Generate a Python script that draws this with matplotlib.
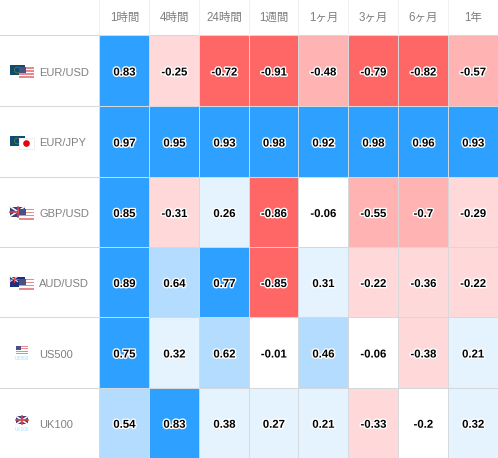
import numpy as np
import matplotlib
matplotlib.use('Agg')
import matplotlib.pyplot as plt
import matplotlib.patheffects as pe
from matplotlib.colors import ListedColormap, BoundaryNorm
from matplotlib.patches import Rectangle, Circle

periodos = ['1時間', '4時間', '24時間', '1週間', '1ヶ月', '3ヶ月', '6ヶ月', '1年']
simbolos = ['EUR/USD', 'EUR/JPY', 'GBP/USD', 'AUD/USD', 'US500', 'UK100']
eur_usd = [0.83, -0.25, -0.72, -0.91, -0.48, -0.79, -0.82, -0.57]
eur_jpy = [0.97, 0.95, 0.93, 0.98, 0.92, 0.98, 0.96, 0.93]
gbp_usd = [0.85, -0.31, 0.26, -0.86, -0.06, -0.55, -0.7, -0.29]
aud_usd = [0.89, 0.64, 0.77, -0.85, 0.31, -0.22, -0.36, -0.22]
us500 = [0.75, 0.32, 0.62, -0.01, 0.46, -0.06, -0.38, 0.21]
uk100 = [0.54, 0.83, 0.38, 0.27, 0.21, -0.33, -0.2, 0.32]
valores = np.array([eur_usd, eur_jpy, gbp_usd, aud_usd, us500, uk100])

limites = [-1.01, -0.7001, -0.4, -0.2001, 0.2, 0.4, 0.7, 1.01]
colores = ['#ff6666', '#ffb3b3', '#ffd9d9', '#ffffff', '#e5f3ff', '#b3dcff', '#2ea0ff']

bordes_x = [99.5, 149.5, 199.5, 249.5, 298.5, 348.5, 398.5, 448.5, 498]
bordes_y = [35.5, 106.5, 177.5, 247.5, 317.5, 388.5, 458]

plt.rcParams['font.family'] = ['Liberation Sans', 'Noto Sans CJK JP', 'DejaVu Sans']

fig = plt.figure(figsize=(4.98, 4.58), dpi=100)
ax = fig.add_axes([0, 0, 1, 1])
ax.set_xlim(0, 498)
ax.set_ylim(458, 0)
ax.axis('off')

cmap = ListedColormap(colores)
norm = BoundaryNorm(limites, cmap.N)
ax.pcolormesh(bordes_x, bordes_y, valores, cmap=cmap, norm=norm)

# lineas de la tabla
for y in bordes_y[:-1]:
    ax.plot([0, 498], [y - 0.5, y - 0.5], color='#d6d9dc', lw=0.75, snap=True)
for x in bordes_x[1:-1]:
    ax.plot([x - 0.5, x - 0.5], [35.5, 458], color='#d6d9dc', lw=0.7, snap=True)
for x in bordes_x[:-1]:
    ax.plot([x - 0.5, x - 0.5], [0, 35], color='#f0f0f0', lw=0.75, snap=True)
ax.plot([bordes_x[0] - 0.5] * 2, [35.5, 458], color='#d6d9dc', lw=0.75, snap=True)

for j, p in enumerate(periodos):
    xc = (bordes_x[j] + bordes_x[j + 1]) / 2
    ax.text(xc, 18, p, ha='center', va='center', fontsize=8.3, color='#7f7f7f')


def bandera(x, y, w, h, tipo):
    ax.add_patch(Rectangle((x, y), w, h, color='#ffffff', lw=0, zorder=3))
    if tipo == 'eur':
        ax.add_patch(Rectangle((x, y), w, h, color='#0f4c6e', lw=0, zorder=3))
        ax.add_patch(Circle((x + w / 2, y + h / 2), h * 0.3, fill=False, ec='#7f8f3a', lw=0.4, zorder=3))
    elif tipo == 'usa':
        for k in range(0, 7, 2):
            ax.add_patch(Rectangle((x, y + k * h / 7), w, h / 7, color='#e58a90', lw=0, zorder=4))
        ax.add_patch(Rectangle((x, y), w * 0.45, h * 0.55, color='#4a4f85', lw=0, zorder=5))
    elif tipo == 'jpy':
        ax.add_patch(Rectangle((x, y), w, h, fill=False, ec='#e8e8e8', lw=0.5, zorder=4))
        ax.add_patch(Circle((x + w / 2, y + h / 2), h * 0.3, color='#e8000b', lw=0, zorder=4))
    elif tipo == 'gbr':
        ax.add_patch(Rectangle((x, y), w, h, color='#3b3f78', lw=0, zorder=3))
        ax.plot([x, x + w], [y, y + h], color='#f4f4f4', lw=1.2, zorder=4)
        ax.plot([x, x + w], [y + h, y], color='#f4f4f4', lw=1.2, zorder=4)
        ax.plot([x, x + w], [y + h / 2, y + h / 2], color='#d8434f', lw=1.2, zorder=5)
        ax.plot([x + w / 2, x + w / 2], [y, y + h], color='#d8434f', lw=1.2, zorder=5)
    elif tipo == 'aud':
        ax.add_patch(Rectangle((x, y), w, h, color='#1c2f7c', lw=0, zorder=3))
        ax.plot([x, x + w * 0.5], [y, y + h * 0.5], color='#e8e8e8', lw=0.8, zorder=4)
        ax.plot([x, x + w * 0.5], [y + h * 0.5, y], color='#e8e8e8', lw=0.8, zorder=4)
        ax.plot([x, x + w * 0.5], [y + h * 0.25, y + h * 0.25], color='#d8434f', lw=0.8, zorder=5)
        ax.plot([x + w * 0.25, x + w * 0.25], [y, y + h * 0.5], color='#d8434f', lw=0.8, zorder=5)


iconos = [('eur', 'usa'), ('eur', 'jpy'), ('gbr', 'usa'), ('aud', 'usa'), ('usa', 'US500'), ('gbr', 'UK100')]

for i, s in enumerate(simbolos):
    yc = (bordes_y[i] + bordes_y[i + 1]) / 2
    ax.text(39, yc + 1.5, s, ha='left', va='center', fontsize=8.0, color='#808080')
    a, b = iconos[i]
    if b in ('US500', 'UK100'):
        bandera(16, yc - 7, 12, 8, a)
        ax.text(22, yc + 6, b, ha='center', va='center', fontsize=3.4, color='#9fe0f5')
    else:
        bandera(10, yc - 6, 15, 10, a)
        bandera(19, yc - 4, 15, 11, b)
    for j in range(len(periodos)):
        xc = (bordes_x[j] + bordes_x[j + 1]) / 2
        ax.text(xc, yc + 1.5, str(valores[i, j]), ha='center', va='center', fontsize=8.2,
                fontweight='bold', color='black',
                path_effects=[pe.withStroke(linewidth=2, foreground='white')])

fig.savefig('out.png', dpi=100)
